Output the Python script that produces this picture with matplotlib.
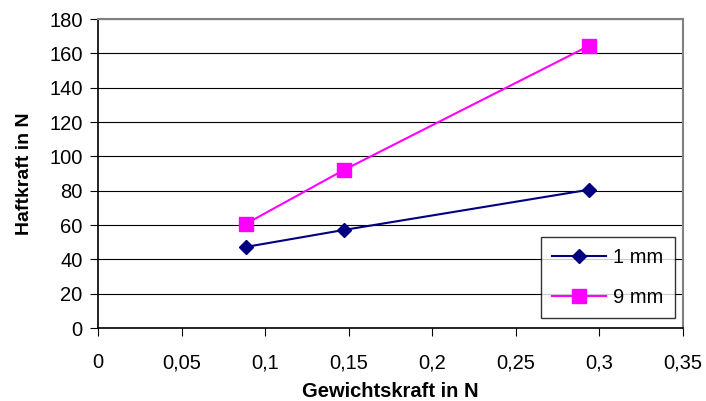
import matplotlib
matplotlib.use('Agg')
from matplotlib import pyplot as plt
import numpy as np

plt.rcParams['font.family'] = ['Liberation Sans', 'DejaVu Sans']

gewicht = [0.0883, 0.147, 0.294]
haft_1mm = [47.2, 57.1, 80.6]
haft_9mm = [60.6, 92.0, 164.5]
xticks = [0, 0.05, 0.1, 0.15, 0.2, 0.25, 0.3, 0.35]
xlabels = ['0', '0,05', '0,1', '0,15', '0,2', '0,25', '0,3', '0,35']
yticks = list(range(0, 181, 20))

fig = plt.figure(figsize=(7.06, 4.01), dpi=100)
ax = fig.add_axes([0.1388, 0.182, 0.8286, 0.7706])

ax.plot(gewicht, haft_1mm, color='#000080', lw=1.5, marker='D', ms=7, label='1 mm', zorder=3)
ax.plot(gewicht, haft_9mm, color='#FF00FF', lw=1.5, marker='s', ms=10.5, label='9 mm', zorder=3)

ax.set_xlim(0, 0.35)
ax.set_ylim(0, 180)
ax.set_xticks(xticks)
ax.set_xticklabels(xlabels)
ax.set_yticks(yticks)
ax.yaxis.grid(True, color='black', lw=0.8)
ax.set_axisbelow(True)
ax.tick_params(labelsize=14.5, direction='out', length=6, color='black')
ax.tick_params(axis='x', pad=12)
ax.tick_params(axis='y', pad=5)

for s in ['top', 'right']:
    ax.spines[s].set_color('#808080')
    ax.spines[s].set_linewidth(1.5)
for s in ['left', 'bottom']:
    ax.spines[s].set_color('black')
    ax.spines[s].set_linewidth(1.2)

ax.set_xlabel('Gewichtskraft in N', fontsize=14.5, fontweight='bold', labelpad=7)
ax.set_ylabel('Haftkraft in N', fontsize=14, fontweight='bold', labelpad=12)

leg = ax.legend(loc='lower right', fontsize=14.5, frameon=True, fancybox=False,
                edgecolor='black', handlelength=2.7, handletextpad=0.35,
                borderpad=0.55, labelspacing=1.05, borderaxespad=0,
                bbox_to_anchor=(0.986, 0.032))
leg.get_frame().set_linewidth(1.0)

fig.savefig('out.png', dpi=100)
